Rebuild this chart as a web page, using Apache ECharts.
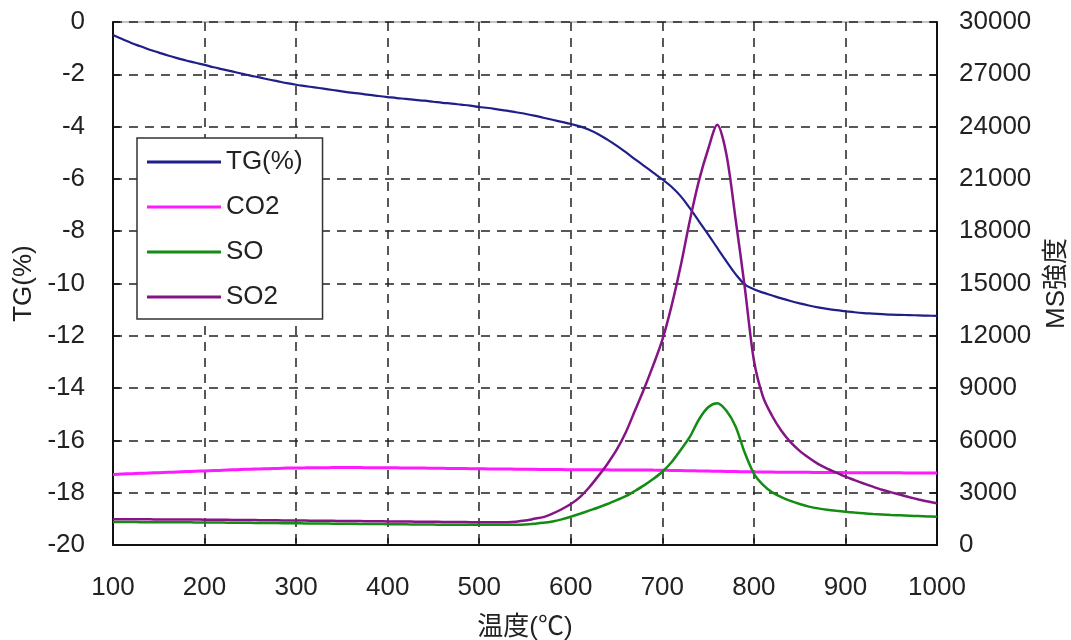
<!DOCTYPE html>
<html><head><meta charset="utf-8">
<script src="https://cdn.jsdelivr.net/npm/echarts@6/dist/echarts.min.js"></script>
<style>html,body{margin:0;padding:0;background:#fff}#c{width:1071px;height:640px}</style>
</head><body><div id="c"></div>
<script>
const temps = [];
for (let t = 100; t <= 1000; t += 10) temps.push(t);

const tg = [
-0.5,-0.65,-0.8,-0.93,-1.06,-1.17,-1.28,-1.38,-1.47,-1.56,-1.64,
-1.73,-1.81,-1.89,-1.97,-2.05,-2.12,-2.2,-2.27,-2.34,-2.4,
-2.45,-2.5,-2.55,-2.6,-2.65,-2.7,-2.74,-2.79,-2.83,-2.87,
-2.91,-2.94,-2.98,-3.01,-3.05,-3.09,-3.12,-3.16,-3.2,-3.25,
-3.29,-3.34,-3.39,-3.45,-3.51,-3.58,-3.66,-3.74,-3.82,-3.9,
-3.99,-4.12,-4.29,-4.5,-4.73,-4.98,-5.24,-5.5,-5.76,-6.02,
-6.3,-6.66,-7.12,-7.62,-8.12,-8.64,-9.15,-9.64,-10.03,-10.22,
-10.35,-10.46,-10.57,-10.67,-10.76,-10.84,-10.91,-10.97,-11.02,-11.06,
-11.1,-11.13,-11.15,-11.17,-11.19,-11.2,-11.21,-11.22,-11.23,-11.24];

const co2 = [
4050,4070,4090,4110,4130,4150,4170,4190,4210,4230,4250,
4270,4290,4310,4330,4350,4365,4380,4395,4410,4420,
4425,4430,4435,4440,4440,4440,4440,4435,4435,4430,
4425,4420,4415,4410,4405,4400,4390,4385,4380,4370,
4365,4360,4355,4350,4345,4340,4335,4330,4325,4320,
4318,4315,4312,4310,4308,4305,4302,4300,4295,4290,
4280,4270,4260,4250,4240,4230,4220,4210,4200,4190,
4186,4182,4178,4174,4170,4166,4162,4158,4154,4150,
4148,4146,4144,4142,4140,4138,4136,4134,4132,4130];

const so = [
1320,1318,1315,1312,1310,1307,1305,1302,1300,1297,1295,
1290,1285,1280,1275,1270,1265,1260,1255,1250,1245,
1240,1235,1230,1225,1220,1215,1210,1205,1200,1195,
1190,1185,1180,1175,1170,1165,1160,1160,1160,1160,
1155,1155,1155,1160,1180,1220,1270,1350,1470,1620,
1790,1970,2150,2350,2570,2800,3100,3420,3780,4200,
4750,5450,6200,7200,7900,8130,7700,6800,5300,4100,
3450,3020,2750,2530,2350,2200,2100,2020,1960,1910,
1860,1820,1780,1750,1720,1700,1680,1660,1640,1625];

const so2 = [
1480,1478,1475,1472,1470,1467,1465,1462,1460,1457,1455,
1450,1445,1440,1435,1430,1425,1420,1415,1410,1405,
1400,1395,1390,1385,1380,1375,1370,1365,1360,1355,
1350,1345,1340,1335,1330,1325,1320,1315,1310,1305,
1300,1300,1310,1340,1400,1500,1600,1800,2050,2350,
2750,3300,3950,4650,5450,6450,7700,8950,10300,11760,
13700,16000,18600,20900,22700,24100,22400,18700,14800,10600,
8500,7400,6550,5900,5400,5000,4650,4380,4150,3920,
3720,3530,3345,3170,3020,2880,2740,2610,2490,2390];

const seriesNames = ['TG(%)', 'CO2', 'SO', 'SO2'];
const seriesColors = ['#1f1f8a', '#ff1aff', '#148c14', '#851585'];

const pairs = arr => temps.map((t, i) => [t, arr[i]]);
const FONT = '"Liberation Sans", Arial, "Noto Sans CJK JP", sans-serif';
const lbl = { fontSize: 26, color: '#222', fontFamily: FONT, formatter: v => String(v) };
const dash = { color: '#222', type: [9, 7], width: 1.5 };

const chart = echarts.init(document.getElementById('c'));
chart.setOption({
  animation: false,
  backgroundColor: '#fff',
  textStyle: { fontFamily: FONT },
  grid: { left: 113, right: 134, top: 22, bottom: 95, containLabel: false, outerBoundsMode: 'none',
          show: true, borderColor: '#888', borderWidth: 1 },
  legend: {
    data: seriesNames,
    orient: 'vertical',
    left: 137, top: 138,
    icon: 'rect', itemWidth: 74, itemHeight: 3, itemGap: 19,
    padding: [11, 20, 9, 10],
    backgroundColor: '#fff', borderColor: '#333', borderWidth: 1.5,
    textStyle: { fontSize: 26, color: '#222', fontFamily: FONT, lineHeight: 26 }
  },
  xAxis: {
    type: 'value', min: 100, max: 1000, interval: 100,
    name: '温度(℃)', nameLocation: 'middle', nameGap: 70,
    nameTextStyle: { fontSize: 26, color: '#222', fontFamily: FONT },
    axisLine: { onZero: false, lineStyle: { color: '#111', width: 2 } },
    axisTick: { inside: true, length: 7, lineStyle: { color: '#111', width: 1.5 } },
    axisLabel: Object.assign({ margin: 30 }, lbl),
    splitLine: { show: true, lineStyle: dash }
  },
  yAxis: [{
    type: 'value', min: -20, max: 0, interval: 2, position: 'left',
    name: 'TG(%)', nameLocation: 'middle', nameGap: 73, nameRotate: 90,
    nameTextStyle: { fontSize: 26, color: '#222', fontFamily: FONT },
    axisLine: { show: true, onZero: false, lineStyle: { color: '#111', width: 2 } },
    axisTick: { show: true, inside: true, length: 7, lineStyle: { color: '#111', width: 1.5 } },
    axisLabel: Object.assign({ margin: 28 }, lbl),
    splitLine: { show: true, lineStyle: dash }
  }, {
    type: 'value', min: 0, max: 30000, interval: 3000, position: 'right',
    name: 'MS強度', nameLocation: 'middle', nameGap: 107, nameRotate: 90,
    nameTextStyle: { fontSize: 26, color: '#222', fontFamily: FONT },
    axisLine: { show: true, onZero: false, lineStyle: { color: '#111', width: 2 } },
    axisTick: { show: true, inside: true, length: 7, lineStyle: { color: '#111', width: 1.5 } },
    axisLabel: Object.assign({ margin: 22 }, lbl),
    splitLine: { show: false }
  }],
  series: [
    { name: seriesNames[0], type: 'line', yAxisIndex: 0, data: pairs(tg), smooth: 0.4, showSymbol: false,
      color: seriesColors[0], lineStyle: { width: 2.2, color: seriesColors[0] } },
    { name: seriesNames[1], type: 'line', yAxisIndex: 1, data: pairs(co2), smooth: 0.3, showSymbol: false,
      color: seriesColors[1], lineStyle: { width: 3, color: seriesColors[1] } },
    { name: seriesNames[2], type: 'line', yAxisIndex: 1, data: pairs(so), smooth: 0.3, showSymbol: false,
      color: seriesColors[2], lineStyle: { width: 2.5, color: seriesColors[2] } },
    { name: seriesNames[3], type: 'line', yAxisIndex: 1, data: pairs(so2), smooth: 0.3, showSymbol: false,
      color: seriesColors[3], lineStyle: { width: 2.5, color: seriesColors[3] } }
  ]
});
</script></body></html>
